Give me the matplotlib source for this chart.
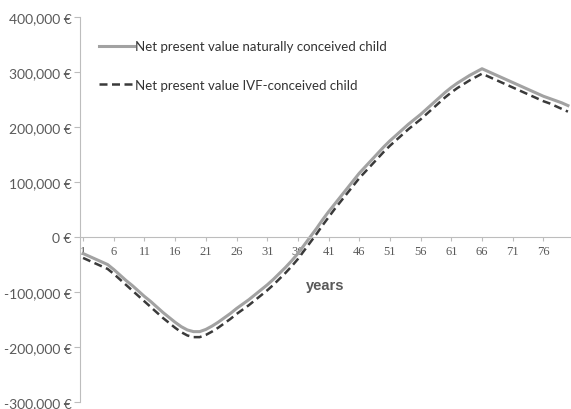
import numpy as np
import matplotlib.pyplot as plt
from matplotlib.ticker import FuncFormatter

# net present value per year of life (euros)
years = list(range(1, 81))
natural = [-30000, -35000, -40000, -45000, -50000, -59000, -69000, -79000, -88000, -98000,
           -108000, -117000, -127000, -137000, -146000, -155000, -163000, -169000, -172000, -172000,
           -168000, -162000, -155000, -147000, -139000, -130000, -122000, -114000, -105000, -96000,
           -87000, -77000, -66000, -55000, -43000, -30000, -15000, 0, 15000, 31000,
           46000, 60000, 74000, 88000, 102000, 116000, 128000, 140000, 152000, 164000,
           175000, 185000, 195000, 205000, 214000, 223000, 233000, 243000, 253000, 263000,
           272000, 280000, 287000, 294000, 300000, 306000, 301000, 296000, 291000, 286000,
           281000, 276000, 271000, 266000, 261000, 256000, 252000, 248000, 244000, 239000]
ivf = [-38000, -43000, -48000, -53000, -58000, -67000, -77000, -87000, -97000, -107000,
       -117000, -127000, -137000, -147000, -156000, -165000, -173000, -179000, -182000, -182000,
       -178000, -172000, -165000, -157000, -149000, -140000, -132000, -124000, -115000, -106000,
       -97000, -87000, -76000, -65000, -53000, -40000, -25000, -10000, 5000, 21000,
       36000, 51000, 65000, 79000, 93000, 107000, 119000, 131000, 143000, 155000,
       166000, 176000, 186000, 196000, 205000, 214000, 224000, 234000, 244000, 254000,
       263000, 271000, 278000, 285000, 291000, 297000, 292000, 287000, 282000, 277000,
       272000, 267000, 262000, 257000, 252000, 247000, 243000, 238000, 233000, 228000]
x_labels = list(range(1, 80, 5))
y_ticks = list(range(-300000, 400001, 100000))

txt = '#5a5a5a'
fig = plt.figure(figsize=(5.71, 4.10), dpi=100)
ax = fig.add_axes([80 / 571, 0.017, 1 - 80 / 571, 0.939])

ax.plot(years, natural, color='#a2a2a2', lw=2.2, label='Net present value naturally conceived child')
ax.plot(years, ivf, color='#3a3a3a', lw=1.8, ls=(0, (3.2, 1.8)), label='Net present value IVF-conceived child')

ax.set_xlim(0.5, 80.5)
ax.set_ylim(-300000, 400000)
ax.set_yticks(y_ticks)
ax.yaxis.set_major_formatter(FuncFormatter(lambda v, p: '{:,.0f} €'.format(v)))
ax.set_xticks(x_labels)

for s in ['top', 'right']:
    ax.spines[s].set_visible(False)
ax.spines['left'].set_color('#bdbdbd')
ax.spines['bottom'].set_position(('data', 0))
ax.spines['bottom'].set_color('#bdbdbd')
ax.tick_params(axis='y', colors='#bdbdbd', labelcolor=txt, labelsize=10, length=4, pad=2)
ax.tick_params(axis='x', colors='#bdbdbd', labelcolor=txt, labelsize=9, length=3, pad=3)
for t in ax.get_yticklabels():
    t.set_family('Lato')
for t in ax.get_xticklabels():
    t.set_family('Liberation Serif')

ax.text(40.5, -88000, 'years', ha='center', va='center', fontsize=10.5,
        fontweight='bold', color=txt, family='Liberation Sans')

leg = ax.legend(loc='upper left', bbox_to_anchor=(0.015, 0.97), frameon=False,
                labelspacing=2.0, handlelength=2.6, handletextpad=0.1,
                prop={'family': 'Lato', 'size': 9.5})
for t in leg.get_texts():
    t.set_color('#333333')

fig.savefig('out.png', dpi=100)
